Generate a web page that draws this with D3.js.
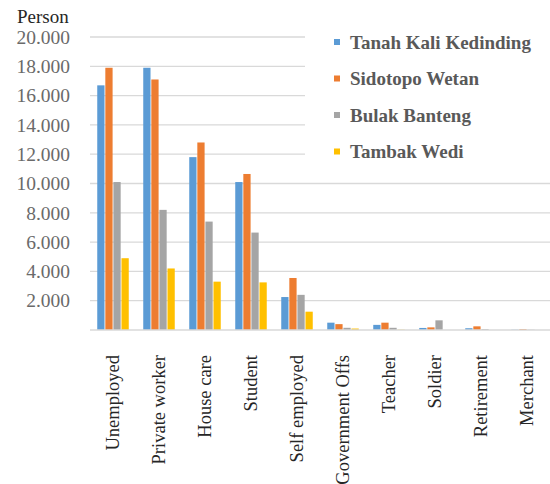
<!DOCTYPE html>
<html>
<head>
<meta charset="utf-8">
<script src="https://cdn.jsdelivr.net/npm/d3@7"></script>
<style>
  body { margin: 0; background: #fff; }
</style>
</head>
<body>
<figure id="chart" style="margin:0"></figure>
<script>
// categories and series
var categories = ["Unemployed", "Private worker", "House care", "Student", "Self employed",
    "Government Offs", "Teacher", "Soldier", "Retirement", "Merchant"];
var seriesNames = ["Tanah Kali Kedinding", "Sidotopo Wetan", "Bulak Banteng", "Tambak Wedi"];
var tanahKali = [16700, 17900, 11800, 10100, 2250, 500, 350, 140, 120, 20];
var sidotopo  = [17900, 17100, 12800, 10650, 3550, 400, 500, 180, 250, 60];
var bulak     = [10100, 8200, 7400, 6650, 2400, 150, 150, 660, 60, 20];
var tambak    = [4900, 4200, 3300, 3250, 1250, 100, 20, 0, 0, 0];
var yTicks = [2000, 4000, 6000, 8000, 10000, 12000, 14000, 16000, 18000, 20000];
var colors = ["#5b9bd5", "#ed7d31", "#a5a5a5", "#ffc000"];

var seriesValues = [tanahKali, sidotopo, bulak, tambak];
var serif = "'Liberation Serif', 'Times New Roman', serif";

var dimensions = {
    width: 550,
    height: 484,
    margin: { top: 37, right: 0, bottom: 154, left: 90 }
};
dimensions.boundedWidth = dimensions.width - dimensions.margin.left - dimensions.margin.right;
dimensions.boundedHeight = dimensions.height - dimensions.margin.top - dimensions.margin.bottom;

var svg = d3.select("figure#chart")
    .append("svg")
    .attr("width", dimensions.width)
    .attr("height", dimensions.height);

var g = svg.append("g")
    .attr("transform", `translate(${dimensions.margin.left},${dimensions.margin.top})`);

var x0 = d3.scaleBand()
    .domain(categories)
    .range([0, dimensions.boundedWidth])
    .paddingInner(0.28)
    .paddingOuter(0.14);

var x1 = d3.scaleBand()
    .domain(seriesNames)
    .range([0, x0.bandwidth()])
    .padding(0.1);

var yScale = d3.scaleLinear()
    .domain([0, 20000])
    .range([dimensions.boundedHeight, 0]);

var fmt = d => d3.format(",")(d).replace(/,/g, ".");

// gridlines
g.append("g")
    .selectAll("line")
    .data(yTicks)
    .join("line")
    .attr("x1", 0)
    .attr("x2", dimensions.boundedWidth)
    .attr("y1", d => yScale(d))
    .attr("y2", d => yScale(d))
    .attr("stroke", "#d9d9d9")
    .attr("stroke-width", 1.3);

// y axis labels
var yAxis = g.append("g")
    .call(d3.axisLeft(yScale).tickValues(yTicks).tickFormat(fmt).tickSize(0).tickPadding(20));
yAxis.select(".domain").remove();
yAxis.selectAll("text")
    .style("font-family", serif)
    .style("font-size", "19.5px")
    .attr("fill", "#6a6a6a");

// bars
var rows = categories.map((c, i) => ({
    cat: c,
    vals: seriesNames.map((s, j) => ({ key: s, value: seriesValues[j][i], color: colors[j] }))
}));

g.append("g")
    .selectAll("g")
    .data(rows)
    .join("g")
    .attr("transform", d => `translate(${x0(d.cat)},0)`)
    .selectAll("rect")
    .data(d => d.vals)
    .join("rect")
    .attr("x", d => x1(d.key))
    .attr("y", d => yScale(d.value))
    .attr("width", x1.bandwidth())
    .attr("height", d => dimensions.boundedHeight - yScale(d.value))
    .attr("fill", d => d.color);

// baseline
g.append("line")
    .attr("x1", 0)
    .attr("x2", dimensions.boundedWidth)
    .attr("y1", dimensions.boundedHeight)
    .attr("y2", dimensions.boundedHeight)
    .attr("stroke", "#d9d9d9")
    .attr("stroke-width", 1.5);

// x axis labels, rotated
var xAxis = g.append("g")
    .attr("transform", `translate(0,${dimensions.boundedHeight})`)
    .call(d3.axisBottom(x0).tickSize(0));
xAxis.select(".domain").remove();
xAxis.selectAll("text")
    .style("font-family", serif)
    .style("font-size", "18.5px")
    .attr("fill", "#262626")
    .attr("transform", "rotate(-90)")
    .attr("text-anchor", "end")
    .attr("x", -25)
    .attr("y", 0)
    .attr("dy", "0.35em");

// y title
svg.append("text")
    .attr("x", 17)
    .attr("y", 23)
    .style("font-family", serif)
    .style("font-size", "19px")
    .attr("fill", "#262626")
    .text("Person");

// legend
svg.append("rect")
    .attr("x", 305)
    .attr("y", 20)
    .attr("width", 245)
    .attr("height", 150)
    .attr("fill", "#fff");

var legend = svg.append("g")
    .selectAll("g")
    .data(seriesNames)
    .join("g")
    .attr("transform", (d, i) => `translate(334,${42 + i * 36.5})`);

legend.append("rect")
    .attr("x", 0)
    .attr("y", -3)
    .attr("width", 6)
    .attr("height", 6)
    .attr("fill", (d, i) => colors[i]);

legend.append("text")
    .attr("x", 16)
    .attr("y", 0)
    .attr("dy", "0.35em")
    .style("font-family", serif)
    .style("font-size", "19px")
    .style("font-weight", "bold")
    .attr("fill", "#595959")
    .text(d => d);
</script>
</body>
</html>
